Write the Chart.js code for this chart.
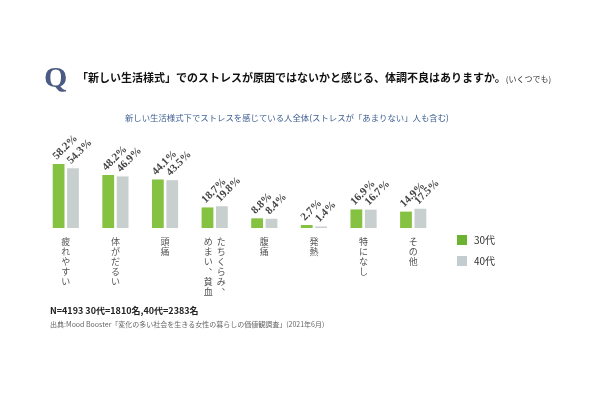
<!DOCTYPE html>
<html>
<head>
<meta charset="utf-8">
<script src="https://cdn.jsdelivr.net/npm/chart.js@4.4.0/dist/chart.umd.min.js"></script>
<style>
  html, body { margin: 0; padding: 0; background: #fff; }
  body { width: 600px; height: 400px; position: relative; overflow: hidden; font-family: "Noto Sans CJK JP", sans-serif; }
  #wrap { position: absolute; left: 0; top: 0; width: 600px; height: 400px; }
  .q { position: absolute; left: 44px; top: 60px; font-family: "Liberation Serif", serif; font-weight: bold; font-size: 30px; color: #4b5b84; }
  .title { position: absolute; left: 77px; top: 69px; font-size: 11px; font-weight: bold; color: #111; white-space: nowrap; }
  .title small { font-size: 8px; font-weight: normal; color: #333; }
  .sub { position: absolute; left: 125px; top: 111px; font-size: 8.4px; color: #3d5f92; white-space: nowrap; }
  .n { position: absolute; left: 50px; top: 304px; font-size: 9px; font-weight: bold; color: #222; white-space: nowrap; }
  .src { position: absolute; left: 50px; top: 319px; font-size: 7px; color: #666; white-space: nowrap; }
</style>
</head>
<body>
<div id="wrap"><canvas id="chart" width="600" height="400"></canvas></div>
<div class="q">Q</div>
<div class="title">「新しい生活様式」でのストレスが原因ではないかと感じる、体調不良はありますか。<small>(いくつでも)</small></div>
<div class="sub">新しい生活様式下でストレスを感じている人全体(ストレスが「あまりない」人も含む)</div>
<div class="n">N=4193 30代=1810名,40代=2383名</div>
<div class="src">出典:Mood Booster「変化の多い社会を生きる女性の暮らしの価値観調査」(2021年6月)</div>
<script>
// categories (each entry = vertical text columns, right to left)
const categories = [
    ['疲れやすい'],
    ['体がだるい'],
    ['頭痛'],
    ['たちくらみ、', 'めまい、貧血'],
    ['腹痛'],
    ['発熱'],
    ['特になし'],
    ['その他']
];
const values30 = [58.2, 48.2, 44.1, 18.7, 8.8, 2.7, 16.9, 14.9];
const values40 = [54.3, 46.9, 43.5, 19.8, 8.4, 1.4, 16.7, 17.5];
const seriesNames = ['30代', '40代'];

// draws % labels, vertical category text and the legend
const decorations = {
    id: 'decorations',
    afterDatasetsDraw(chart) {
        const ctx = chart.ctx;
        const xScale = chart.scales.x;
        ctx.save();

        // value labels, rotated
        ctx.font = 'bold 11px "Liberation Serif", serif';
        ctx.fillStyle = '#444';
        ctx.textAlign = 'left';
        ctx.textBaseline = 'middle';
        chart.data.datasets.forEach((ds, di) => {
            chart.getDatasetMeta(di).data.forEach((bar, i) => {
                ctx.save();
                ctx.translate(bar.x - 4, bar.y - 6);
                ctx.rotate(-45 * Math.PI / 180);
                ctx.fillText(ds.data[i].toFixed(1) + '%', 0, 0);
                ctx.restore();
            });
        });

        // vertical category labels
        ctx.font = '9px "Noto Sans CJK JP", sans-serif';
        ctx.fillStyle = '#555';
        ctx.textAlign = 'center';
        ctx.textBaseline = 'top';
        const top = chart.chartArea.bottom + 9;
        categories.forEach((cols, i) => {
            const cx = xScale.getPixelForValue(i);
            const colGap = 13;
            const startX = cx + (cols.length - 1) * colGap / 2;
            cols.forEach((col, c) => {
                const x = startX - c * colGap;
                Array.from(col).forEach((ch, k) => {
                    if (ch === '、') {
                        ctx.fillText(ch, x + 5, top + k * 10 - 5);
                    } else {
                        ctx.fillText(ch, x, top + k * 10);
                    }
                });
            });
        });

        // legend
        ctx.textAlign = 'left';
        ctx.textBaseline = 'middle';
        ctx.font = '10px "Noto Sans CJK JP", sans-serif';
        chart.data.datasets.forEach((ds, di) => {
            const y = 235 + di * 21;
            ctx.fillStyle = ds.legendColor;
            ctx.fillRect(457, y, 10, 10);
            ctx.fillStyle = '#333';
            ctx.fillText(ds.label, 474, y + 5);
        });
        ctx.restore();
    }
};

const ctx = document.getElementById('chart').getContext('2d');
new Chart(ctx, {
    type: 'bar',
    data: {
        labels: categories,
        datasets: [{
            label: seriesNames[0],
            data: values30,
            backgroundColor: '#86c241',
            legendColor: '#6db332',
            categoryPercentage: 0.58,
            barPercentage: 0.82
        }, {
            label: seriesNames[1],
            data: values40,
            backgroundColor: '#c8d0cf',
            legendColor: '#c3ccd0',
            categoryPercentage: 0.58,
            barPercentage: 0.82
        }]
    },
    options: {
        responsive: false,
        animation: false,
        devicePixelRatio: 1,
        layout: {
            padding: { left: 41, right: 162, top: 118, bottom: 172 }
        },
        scales: {
            x: { display: false },
            y: { display: false, min: 0, max: 100 }
        },
        plugins: {
            legend: { display: false },
            tooltip: { enabled: false }
        }
    },
    plugins: [decorations]
});
</script>
</body>
</html>
